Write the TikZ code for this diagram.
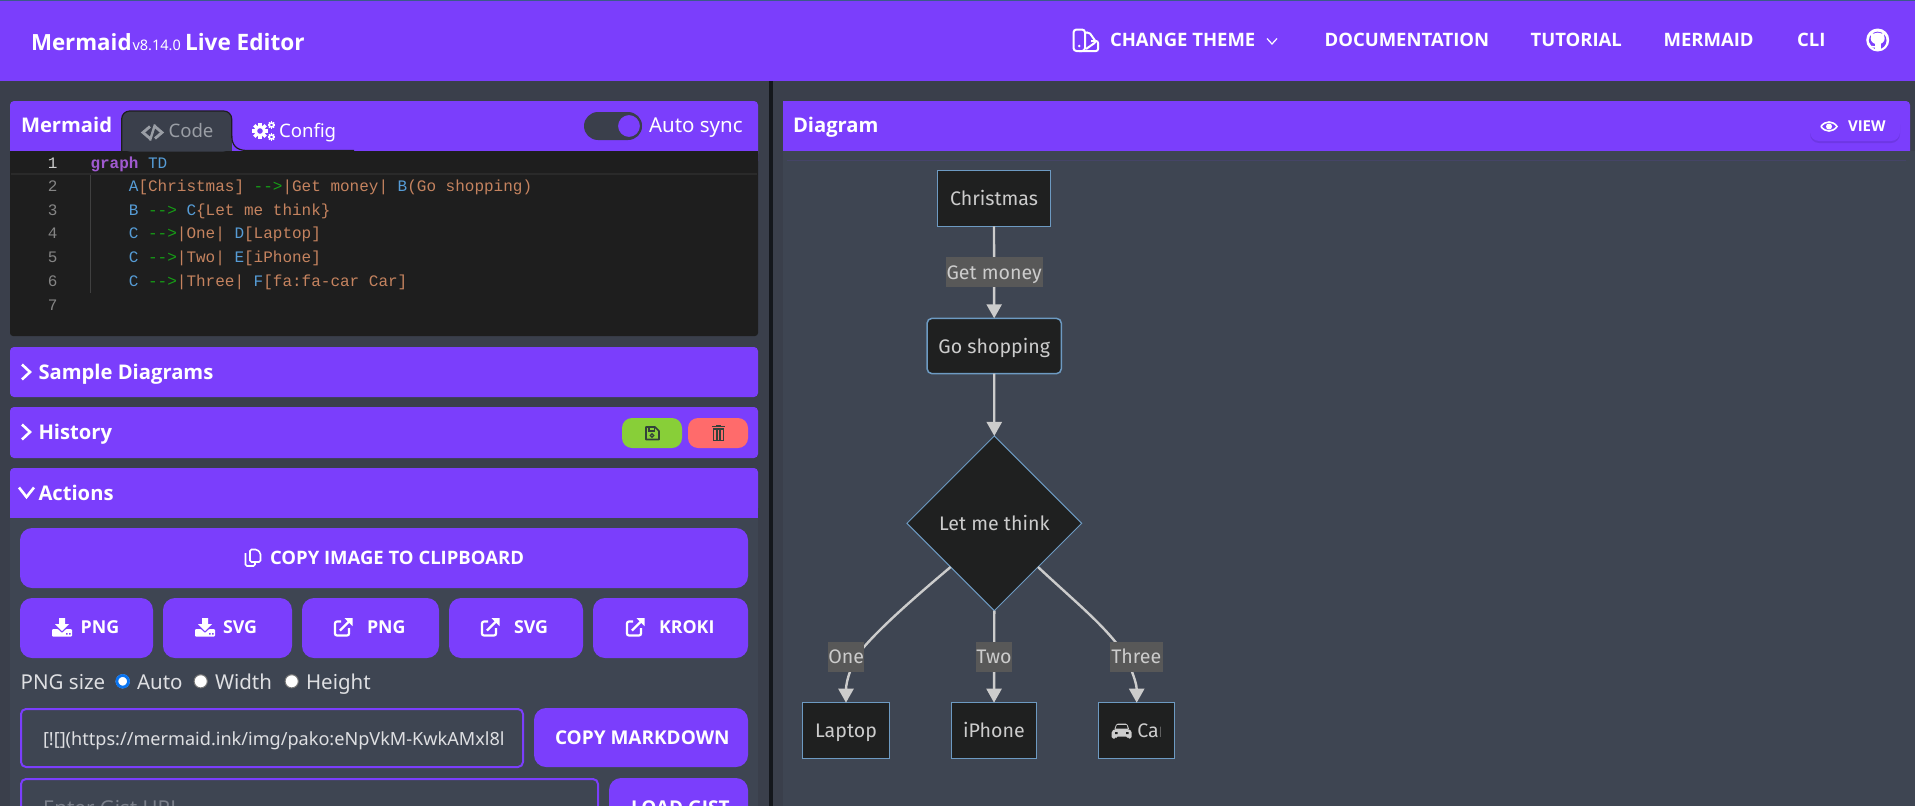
\documentclass[tikz,border=0pt]{standalone}
\usepackage{fontspec}
\usetikzlibrary{shapes.geometric,arrows.meta}
\setmainfont{Noto Sans}[BoldFont={Open Sans Bold}]
\newfontfamily\codefont{Liberation Mono}
\newfontfamily\diafont{Fira Sans}
\definecolor{pagebg}{HTML}{3A3F4B}
\definecolor{panelbg}{HTML}{3E4552}
\definecolor{brand}{HTML}{7B3EFC}
\definecolor{brandshadow}{HTML}{6E37E4}
\definecolor{editorbg}{HTML}{1E1E1E}
\definecolor{divider}{HTML}{14171C}
\definecolor{nodefill}{HTML}{1F2020}
\definecolor{nodeline}{HTML}{6D9AC2}
\definecolor{edgecol}{HTML}{CCCCCC}
\definecolor{labelbg}{HTML}{585858}
\definecolor{ckey}{HTML}{A05AD0}
\definecolor{cblue}{HTML}{569CD6}
\definecolor{corange}{HTML}{C5835F}
\definecolor{cgreen}{HTML}{16A016}
\definecolor{lnum}{HTML}{858585}
\definecolor{tabgrey}{HTML}{9A9EA5}
\definecolor{iconink}{HTML}{33413A}
\definecolor{soft}{HTML}{DEDFE2}
\definecolor{topline}{HTML}{3B5A8A}
\definecolor{savegreen}{HTML}{88CF38}
\definecolor{delred}{HTML}{FF6B6B}
\definecolor{hlline}{HTML}{2A2A2A}
\definecolor{guide}{HTML}{404040}
\definecolor{radioblue}{HTML}{0A74F0}
\definecolor{radioedge}{HTML}{767676}
\definecolor{dimtext}{HTML}{7A7F8A}
\newcommand{\kw}[1]{\textcolor{ckey}{\bfseries #1}}
\newcommand{\cb}[1]{\textcolor{cblue}{#1}}
\newcommand{\co}[1]{\textcolor{corange}{#1}}
\newcommand{\cg}[1]{\textcolor{cgreen}{#1}}
\newcommand{\dlicon}[2]{\begin{scope}[shift={(#1,#2)}]
 \fill[white] (-3,0)--(3,0)--(3,6)--(7,6)--(0,13)--(-7,6)--(-3,6)--cycle;
 \fill[white,rounded corners=1] (-10,11)--(-4,11)--(0,15)--(4,11)--(10,11)--(10,18.5)--(-10,18.5)--cycle;
 \fill[brand] (4,15) rectangle (5.5,16.5) (7,15) rectangle (8.5,16.5);
 \end{scope}}
\newcommand{\exticon}[2]{\begin{scope}[shift={(#1,#2)}]
 \draw[white,line width=2.2,rounded corners=2] (7,3.5)--(1,3.5)--(1,17.5)--(15,17.5)--(15,10);
 \draw[white,line width=2.4] (6,12.5)--(15,3.5);
 \fill[white] (10.5,0)--(18.5,0)--(18.5,8)--cycle;
 \end{scope}}
\newcommand{\gearicon}[3]{\begin{scope}[shift={(#1,#2)},scale=#3]
 \draw[white,line width=3*#3] (0,0) circle[radius=4.5pt];
 \foreach \a in {0,45,...,315} \draw[white,line width=3.2*#3] (\a:5) -- (\a:8);
 \end{scope}}
\tikzset{
 uitext/.style={anchor=base west,inner sep=0pt,outer sep=0pt,text=white},
 fa/.style={font=\bfseries\fontsize{20.2}{24}\selectfont},
 fb/.style={font=\bfseries\fontsize{18.5}{22}\selectfont},
 fbs/.style={font=\bfseries\fontsize{17.8}{22}\selectfont},
 fr/.style={font=\fontsize{20.5}{24}\selectfont},
 ftab/.style={font=\fontsize{18.6}{24}\selectfont},
 codeline/.style={anchor=base west,inner sep=0pt,outer sep=0pt,font=\codefont\fontsize{16}{20}\selectfont},
 linenum/.style={anchor=base east,inner sep=0pt,outer sep=0pt,text=lnum,font=\codefont\fontsize{16}{20}\selectfont},
 bar/.style={fill=brand,rounded corners=4},
 btn/.style={fill=brand,rounded corners=12},
 chev/.style={draw=white,line width=2.6,line join=miter},
 flow/.style={inner sep=0pt,outer sep=0pt,draw=nodeline,line width=1.5,fill=nodefill,text=edgecol,text height=18.4pt,text depth=4pt,font=\diafont\fontsize{19.6}{24}\selectfont},
 flowedge/.style={draw=edgecol,line width=2.4,-{Triangle[length=14pt,width=15pt,fill=edgecol]}},
 flowlabel/.style={inner sep=0pt,outer sep=0pt,fill=labelbg,text=edgecol,text height=18.4pt,text depth=4pt,font=\diafont\fontsize{19.6}{24}\selectfont},
}
\begin{document}
\begin{tikzpicture}[x=1pt,y=-1pt]
\useasboundingbox (0,0) rectangle (1915,806);
\clip (0,0) rectangle (1915,806);
% page
\fill[pagebg] (0,0) rectangle (1915,806);
\fill[panelbg] (783,151) rectangle (1915,806);
\fill[divider] (769,81) rectangle (772.5,806);
% top bar
\fill[brand] (0,0) rectangle (1915,81);
\fill[topline] (0,0) rectangle (1915,1);
\node[uitext,font=\bfseries\fontsize{22.3}{28}\selectfont] (brandname) at (31,50) {Mermaid};
\node[uitext,font=\fontsize{14.5}{18}\selectfont] (version) at (132.5,50) {v8.14.0};
\node[uitext,font=\bfseries\fontsize{22.6}{28}\selectfont] (liveeditor) at (185,50) {Live Editor};
% theme icon
\draw[white,line width=2,rounded corners=3] (1073.5,29.5) rectangle (1085,51);
\draw[white,line width=2,rounded corners=2] (1085,33)--(1089,32)--(1096,42)--(1086,49);
\draw[white,line width=2,rounded corners=2] (1091,41)--(1098,41)--(1098,51)--(1079,51);
\fill[white] (1079.3,46) circle[radius=1.4pt];
\node[uitext,fb] (theme) at (1110,46.7) {CHANGE THEME};
\draw[white,line width=1.2] (1267,38.5)--(1272,44)--(1277,38.5);
\node[uitext,fb] (nav1) at (1324.6,46.7) {DOCUMENTATION};
\node[uitext,fb] (nav2) at (1530.6,46.7) {TUTORIAL};
\node[uitext,fb] (nav3) at (1663.6,46.7) {MERMAID};
\node[uitext,fb] (nav4) at (1797,46.7) {CLI};
% github
\begin{scope}[shift={(1877.7,40)}]
 \fill[white] (0,0) circle[radius=11.5pt];
 \fill[brand] (0,0.5) circle[radius=8.8pt];
 \fill[white] (0,-1.5) ellipse[x radius=7pt,y radius=5.8pt];
 \fill[white] (-6.5,-7.5)--(-2.5,-5.5)--(-6.5,-2)--cycle;
 \fill[white] (6.5,-7.5)--(2.5,-5.5)--(6.5,-2)--cycle;
 \fill[white] (-3,3) rectangle (3,11);
 \draw[white,line width=1.6] (-9,3.5)--(-7,6.5)--(-3,7);
\end{scope}
% left panel header + editor
\fill[bar] (10,101) rectangle (758,165);
\fill[editorbg,rounded corners=3] (10,151) rectangle (758,336);
\fill[editorbg] (10,151) rectangle (758,160);
\node[uitext,fa] (mermaidtitle) at (21,132) {Mermaid};
% code tab
\fill[pagebg,rounded corners=8] (121.7,151.5)--(121.7,111)--(231.7,111)--(231.7,151.5)--cycle;
\fill[pagebg] (121.7,140) rectangle (231.7,151);
\draw[editorbg,line width=1.2,rounded corners=8] (121.7,151)--(121.7,111)--(231.7,111)--(231.7,138);
\draw[editorbg,line width=1.2] (231.7,136) .. controls (232,145) and (236,150) .. (246,150.5) -- (354,150.5);
\draw[tabgrey,line width=2.8] (150,126.5)--(143,132.5)--(150,138.5) (155,126.5)--(162,132.5)--(155,138.5);
\draw[tabgrey,line width=2.4] (155,124.5)--(150,140.5);
\node[uitext,ftab,text=tabgrey] (codetab) at (168.5,137.7) {Code};
\gearicon{260}{131}{1}
\gearicon{271.5}{125}{0.46}
\gearicon{271.5}{137}{0.46}
\node[uitext,ftab] (configtab) at (279,137.7) {Config};
% toggle
\fill[pagebg,rounded corners=14] (584,112) rectangle (642,140);
\fill[brand,draw=pagebg,line width=2] (629,126) circle[radius=12pt];
\node[uitext,fr] (autosync) at (649,132) {Auto sync};
% code
\draw[hlline,line width=1.5] (11,173.8)--(757,173.8);
\draw[guide,line width=1] (90.5,175)--(90.5,293);
\node[linenum,text=edgecol] (ln1) at (57.5,168) {1};
\node[linenum] (ln2) at (57.5,191.7) {2};
\node[linenum] (ln3) at (57.5,215.4) {3};
\node[linenum] (ln4) at (57.5,238.5) {4};
\node[linenum] (ln5) at (57.5,262) {5};
\node[linenum] (ln6) at (57.5,286) {6};
\node[linenum] (ln7) at (57.5,310) {7};
\node[codeline] (code1) at (90.5,168) {\kw{graph} \cb{TD}};
\node[codeline] (code2) at (128.9,191.7) {\cb{A}\co{[Christmas]} \cg{-{}->}\co{|Get money|} \cb{B}\co{(Go shopping)}};
\node[codeline] (code3) at (128.9,215.4) {\cb{B} \cg{-{}->} \cb{C}\co{\{Let me think\}}};
\node[codeline] (code4) at (128.9,238.5) {\cb{C} \cg{-{}->}\co{|One|} \cb{D}\co{[Laptop]}};
\node[codeline] (code5) at (128.9,262) {\cb{C} \cg{-{}->}\co{|Two|} \cb{E}\co{[iPhone]}};
\node[codeline] (code6) at (128.9,286) {\cb{C} \cg{-{}->}\co{|Three|} \cb{F}\co{[fa:fa-car Car]}};
% sample diagrams
\fill[bar] (10,347) rectangle (758,397);
\draw[chev] (22,364.5)--(30,372)--(22,379.5);
\node[uitext,fa] (sample) at (38.5,379) {Sample Diagrams};
% history
\fill[bar] (10,407) rectangle (758,458);
\draw[chev] (22,424.5)--(30,432)--(22,439.5);
\node[uitext,fa] (history) at (38.5,439) {History};
\fill[savegreen,rounded corners=10] (622,418) rectangle (682,448);
\fill[delred,rounded corners=10] (688,418) rectangle (748,448);
\draw[iconink,line width=1.6,line join=round] (646,427)--(655,427)--(659,431)--(659,439.5)--(646,439.5)--cycle;
\draw[iconink,line width=1.4] (649,427)--(649,431)--(654.5,431)--(654.5,427);
\draw[iconink,line width=1.2] (652,435.5) circle[radius=1.8pt];
\draw[iconink,line width=1.8] (712,426.5)--(725,426.5);
\fill[iconink] (716,425) rectangle (721,426.5);
\draw[iconink,line width=1.6] (713.5,429)--(713.5,440.5)--(723.5,440.5)--(723.5,429)--cycle;
\draw[iconink,line width=1.3] (717,430)--(717,440) (720,430)--(720,440);
% actions
\fill[panelbg] (10,500) rectangle (758,806);
\fill[bar] (10,468) rectangle (758,512);
\fill[brand] (10,500) rectangle (758,518);
\draw[chev] (19,487.5)--(26.5,497)--(34,487.5);
\node[uitext,fa] (actions) at (38.5,500) {Actions};
% buttons
\fill[btn] (20,528) rectangle (748,588);
\draw[white,line width=1.6,rounded corners=1.5] (245.5,553)--(245.5,566)--(255,566)--(255,562);
\draw[white,line width=1.6,rounded corners=1.5] (250,549.5)--(257,549.5)--(260.5,553)--(260.5,562)--(250,562)--cycle;
\node[uitext,fb] (copyimg) at (270,564) {COPY IMAGE TO CLIPBOARD};
\fill[btn] (20,598) rectangle (153,658);
\fill[btn] (163,598) rectangle (292,658);
\fill[btn] (302,598) rectangle (439,658);
\fill[btn] (449,598) rectangle (583,658);
\fill[btn] (593,598) rectangle (748,658);
\dlicon{62}{618}
\node[uitext,fbs] (png1) at (80.7,633) {PNG};
\dlicon{205}{618}
\node[uitext,fbs] (svg1) at (223,633) {SVG};
\exticon{334}{618}
\node[uitext,fbs] (png2) at (367,633) {PNG};
\exticon{481}{618}
\node[uitext,fbs] (svg2) at (514,633) {SVG};
\exticon{626}{618}
\node[uitext,fbs] (kroki) at (659,633) {KROKI};
% png size
\node[uitext,fr,text=soft] (pngsize) at (20.7,689) {PNG size};
\fill[white] (122.7,681.3) circle[radius=7pt];
\draw[radioblue,line width=2.8] (122.7,681.3) circle[radius=5.8pt];
\node[uitext,fr,text=soft] (auto) at (137,689) {Auto};
\filldraw[fill=white,draw=radioedge,line width=1] (200.7,681.3) circle[radius=6.6pt];
\node[uitext,fr,text=soft] (width) at (215,689) {Width};
\filldraw[fill=white,draw=radioedge,line width=1] (291.7,681.3) circle[radius=6.6pt];
\node[uitext,fr,text=soft] (height) at (306,689) {Height};
% inputs
\draw[brand,line width=2,rounded corners=5] (21,709) rectangle (523,767);
\begin{scope}
 \clip (40,715) rectangle (503,760);
 \node[uitext,font=\fontsize{18.1}{24}\selectfont,text=soft] (mdurl) at (43,745) {[![](https://mermaid.ink/img/pako:eNpVkM-KwkAMxl8l};
\end{scope}
\fill[btn] (534,708) rectangle (748,767);
\node[uitext,font=\bfseries\fontsize{19}{22}\selectfont] (copymd) at (555,744) {COPY MARKDOWN};
\draw[brand,line width=2,rounded corners=5] (21,779) rectangle (598,840);
\node[uitext,fr,text=dimtext] (gist) at (43,815) {Enter Gist URL};
\fill[btn] (609,778) rectangle (748,840);
\node[uitext,font=\bfseries\fontsize{19}{22}\selectfont] (loadgist) at (631,814) {LOAD GIST};
% right panel header
\fill[bar] (783,101) rectangle (1910,160);
\fill[brand] (783,101) rectangle (800,151);
\fill[panelbg] (783,151) rectangle (1915,160);
\node[uitext,fa] (diagramtitle) at (793,132) {Diagram};
\fill[brandshadow,rounded corners=9] (1810,116) rectangle (1900,143);
\fill[brand,rounded corners=9] (1810,113) rectangle (1900,141);
\draw[white,line width=1.6] (1821,126.5) .. controls (1825,120.5) and (1833,120.5) .. (1837,126.5) .. controls (1833,132.5) and (1825,132.5) .. (1821,126.5);
\fill[white] (1829,126.5) circle[radius=3pt];
\node[uitext,font=\bfseries\fontsize{15}{18}\selectfont] (view) at (1848,131.7) {VIEW};
% flowchart nodes
\node[flow,rectangle,minimum width=113.4pt,minimum height=55.6pt] (A) at (994,198.5) {Christmas};
\node[flow,rectangle,rounded corners=5,minimum width=134.3pt,minimum height=55.4pt] (B) at (994.2,346) {Go shopping};
\node[flow,diamond,aspect=1,minimum width=174.7pt,minimum height=174.7pt,line width=1] (C) at (994.3,523.3) {Let me think};
\node[flow,rectangle,minimum width=87.4pt,minimum height=55.6pt] (D) at (846,730.5) {Laptop};
\node[flow,rectangle,minimum width=84.6pt,minimum height=55.6pt] (E) at (994,730.5) {iPhone};
\node[flow,rectangle,minimum width=76pt,minimum height=55.6pt,text height=0pt,text depth=0pt] (F) at (1136.7,730.5) {};
% car label inside F
\begin{scope}
 \clip (1105,710) rectangle (1160,750);
 \node[anchor=base west,inner sep=0pt,outer sep=0pt,text=edgecol,font=\diafont\fontsize{19.6}{24}\selectfont] (cartext) at (1137.3,737.7) {Car};
\end{scope}
\fill[edgecol,rounded corners=1.5] (1111.7,731)--(1115,729)--(1128,729)--(1131.7,731)--(1131.7,738.5)--(1127.5,738.5)--(1127.5,736.5)--(1116,736.5)--(1116,738.5)--(1111.7,738.5)--cycle;
\fill[edgecol,rounded corners=1.5] (1114,730)--(1116.5,723.5)--(1127,723.5)--(1129.5,730)--cycle;
\fill[nodefill] (1116.8,725.2)--(1126.6,725.2)--(1127.7,728.5)--(1115.7,728.5)--cycle;
\fill[nodefill] (1115,732) rectangle (1117.5,734) (1126,732) rectangle (1128.5,734);
% routing points
\coordinate (cd) at (863.5,647.5);
\coordinate (cf) at (1116.7,643.5);
% edges
\draw[flowedge] (A.south) -- (B.north);
\draw[flowedge] (B.south) -- (C.north);
\draw[flowedge] (C.south) -- (E.north);
\draw[flowedge] (C.south west) .. controls (915,597) and (882,626) .. (cd) .. controls (852,660) and (846,682) .. (D.north);
\draw[flowedge] (C.south east) .. controls (1070,597) and (1098,620) .. (cf) .. controls (1128,658) and (1136.7,682) .. (F.north);
% edge labels
\node[flowlabel,minimum width=97pt,minimum height=29.4pt] (lab1) at (994.2,272) {Get money};
\node[flowlabel,minimum width=35pt,minimum height=30pt] (lab2) at (846.2,656.7) {One};
\node[flowlabel,minimum width=34pt,minimum height=30pt] (lab3) at (994,656.7) {Two};
\node[flowlabel,minimum width=52.7pt,minimum height=30pt] (lab4) at (1136.3,656.7) {Three};
\end{tikzpicture}
\end{document}
